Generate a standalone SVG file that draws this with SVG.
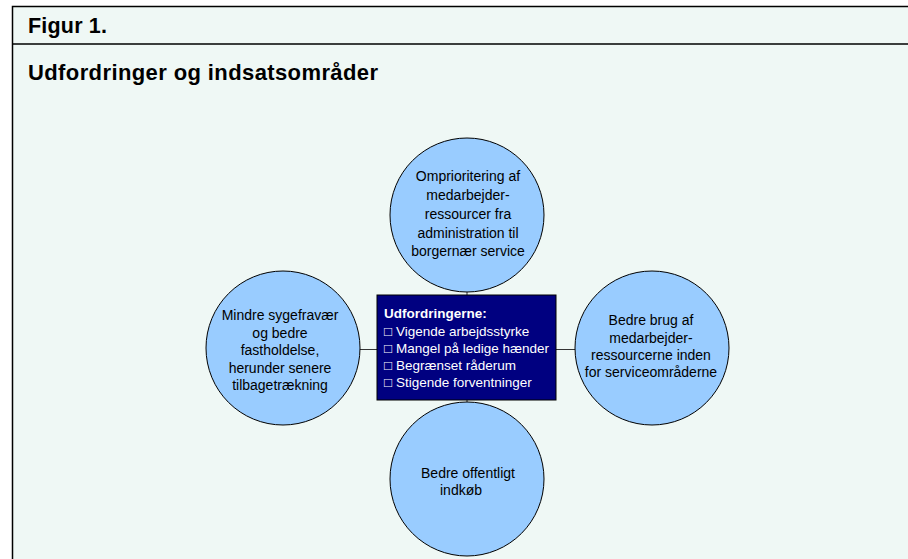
<svg xmlns="http://www.w3.org/2000/svg" width="908" height="559" viewBox="0 0 908 559">
<style>
.bg{fill:#EFF8F5}
.frame{stroke:#000;stroke-width:1.5;fill:none}
.hdr{font-family:"Liberation Sans",Arial,sans-serif;font-weight:bold;fill:#000}
.circ{fill:#99CCFF;stroke:#000;stroke-width:1}
.ct{font-family:"Liberation Sans",Arial,sans-serif;font-size:14px;fill:#000;text-anchor:middle}
.box{fill:#000080;stroke:#000;stroke-width:1}
.bt{font-family:"Liberation Sans",Arial,"DejaVu Sans",sans-serif;font-size:13.5px;fill:#fff}
.conn{stroke:#333;stroke-width:1;fill:none}
</style>
<rect width="908" height="559" fill="#fff"/>
<rect class="bg" x="12" y="6" width="896" height="553"/>
<path class="frame" d="M12.5,559 V6.5 H908 M12.5,44 H908"/>
<text class="hdr" x="28" y="33" font-size="21.5" textLength="79" lengthAdjust="spacing">Figur 1.</text>
<text class="hdr" x="28" y="80" font-size="22" textLength="350" lengthAdjust="spacing">Udfordringer og indsatsområder</text>
<g id="connectors">
<line class="conn" x1="467" y1="292" x2="467" y2="295"/>
<line class="conn" x1="467" y1="400" x2="467" y2="402"/>
<line class="conn" x1="360" y1="349.5" x2="377" y2="349.5"/>
<line class="conn" x1="556" y1="349.5" x2="575" y2="349.5"/>
</g>
<g id="top">
<circle class="circ" cx="467" cy="215" r="77"/>
<text class="ct" x="468" y="181">Omprioritering af</text>
<text class="ct" x="468" y="200">medarbejder-</text>
<text class="ct" x="468" y="219">ressourcer fra</text>
<text class="ct" x="468" y="238">administration til</text>
<text class="ct" x="468" y="256">borgernær service</text>
</g>
<g id="left">
<circle class="circ" cx="283" cy="348" r="77"/>
<text class="ct" x="280" y="320">Mindre sygefravær</text>
<text class="ct" x="280" y="338">og bedre</text>
<text class="ct" x="280" y="355">fastholdelse,</text>
<text class="ct" x="280" y="373">herunder senere</text>
<text class="ct" x="280" y="390">tilbagetrækning</text>
</g>
<g id="right">
<circle class="circ" cx="652" cy="348" r="77"/>
<text class="ct" x="651" y="325">Bedre brug af</text>
<text class="ct" x="651" y="343">medarbejder-</text>
<text class="ct" x="651" y="360">ressourcerne inden</text>
<text class="ct" x="651" y="377">for serviceområderne</text>
</g>
<g id="bottom">
<circle class="circ" cx="467" cy="479" r="77"/>
<text class="ct" x="468" y="478">Bedre offentligt</text>
<text class="ct" x="461" y="495">indkøb</text>
</g>
<g id="center">
<rect class="box" x="377" y="295" width="179" height="105"/>
<text class="bt" x="384" y="318" font-weight="bold">Udfordringerne:</text>
<text class="bt" x="384" y="336">□ Vigende arbejdsstyrke</text>
<text class="bt" x="384" y="353">□ Mangel på ledige hænder</text>
<text class="bt" x="384" y="370">□ Begrænset råderum</text>
<text class="bt" x="384" y="387">□ Stigende forventninger</text>
</g>
</svg>
